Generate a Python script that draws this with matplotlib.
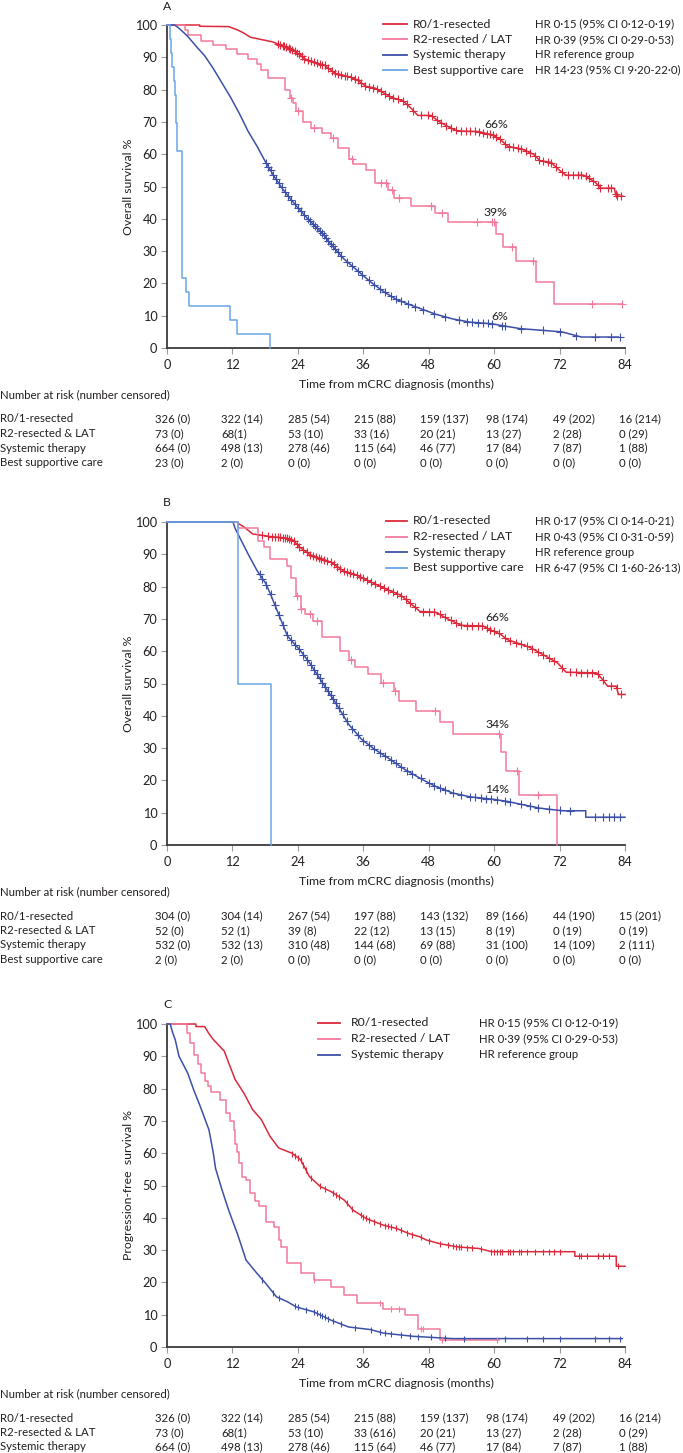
#!/usr/bin/env python3
"""
Kaplan-Meier curves by treatment group (OS, OS landmark, PFS) with risk tables.
"""
import numpy as np
import matplotlib
matplotlib.use('Agg')
import matplotlib.pyplot as plt
from matplotlib.lines import Line2D

plt.rcParams['font.family'] = ['Lato', 'DejaVu Sans']
FS = 8.8     # labels
FSN = 8.2    # number-heavy text (HR, risk table)

W, H = 683, 1453
INK = '#231f20'
C_R01 = '#dc2a3c'
C_R2 = '#f27a9b'
C_SYS = '#3d50a8'
C_BSC = '#6aa6e6'

groups = ['R0/1-resected', 'R2-resected / LAT', 'Systemic therapy', 'Best supportive care']
table_groups = ['R0/1-resected', 'R2-resected & LAT', 'Systemic therapy', 'Best supportive care']
months = [0, 12, 24, 36, 48, 60, 72, 84]

# ---------------- Panel A: overall survival ----------------
hr_a = ['HR 0·15 (95% CI 0·12-0·19)', 'HR 0·39 (95% CI 0·29-0·53)',
        'HR reference group', 'HR 14·23 (95% CI 9·20-22·0)']

a_r01_t = [0, 6.0, 6.0, 11.3, 12.9, 14.1, 15.3, 17.3, 19.3, 20.9, 22.1, 23.7, 25.3, 26.9,
           28.9, 30.9, 33.3, 34.9, 36.5, 38.1, 39.7, 41.3, 43.3, 44.9, 46.0, 48.4, 50.0,
           51.6, 53.2, 57.2, 59.6, 61.2, 62.4, 65.2, 67.2, 68.4, 70.4, 72.0, 73.2, 76.4,
           78.4, 79.6, 82.0, 82.4, 83.6]
a_r01_s = [100, 100, 99.6, 99.5, 98.5, 97.5, 96.2, 95.5, 94.8, 93.8, 93.2, 91.5, 89.5, 88.5,
           87.5, 85.0, 84.0, 83.0, 81.0, 80.5, 79.0, 77.5, 76.5, 74.0, 72.0, 72.0, 70.0,
           68.5, 67.2, 67.0, 66.0, 64.5, 62.5, 61.5, 60.0, 58.0, 57.5, 55.0, 53.5, 53.5,
           51.5, 49.5, 49.5, 47.0, 47.0]
a_r01_cens = [20.3, 20.8, 21.2, 21.5, 21.9, 22.3, 22.6, 23.0, 23.4, 23.8, 24.2, 24.7, 25.2,
              25.8, 26.4, 27.0, 27.5, 28.0, 28.4, 28.9, 29.5, 30.2, 30.8, 31.4, 32.0, 32.6,
              33.1, 33.7, 34.4, 35.0, 35.6, 36.3, 37.0, 37.8, 38.5, 39.2, 40.0, 40.8, 41.5,
              42.4, 43.3, 44.0, 45.2, 46.5, 47.8, 48.6, 49.5, 50.3, 51.2, 52.0, 53.0, 54.0,
              54.8, 55.6, 56.4, 57.2, 58.0, 58.7, 59.3, 59.8, 60.4, 61.0, 62.0, 62.8, 63.5,
              64.3, 65.0, 65.8, 66.6, 67.5, 68.2, 69.0, 69.8, 70.5, 71.3, 72.5, 73.6, 74.5,
              75.3, 76.0, 76.8, 77.4, 78.2, 79.0, 79.5, 80.8, 81.5, 82.3, 82.6, 83.3]

a_r2_t = [0, 3.35, 3.9, 6.3, 8.5, 10.9, 12.9, 14.9, 16.5, 17.3, 18.5, 21.7, 22.5, 23.1,
          23.7, 24.9, 26.5, 28.5, 30.1, 31.3, 33.3, 34.1, 36.5, 38.1, 40.5, 41.7, 44.8,
          49.2, 51.6, 60.4, 61.6, 64.0, 67.6, 70.9, 83.5]
a_r2_s = [100, 98.5, 96.8, 95.0, 93.8, 92.5, 91.0, 89.5, 88.0, 86.0, 83.5, 80.0, 77.5, 76.0,
          73.5, 70.0, 68.2, 66.5, 65.0, 62.0, 58.5, 57.0, 55.0, 51.0, 49.0, 46.5, 43.9,
          41.8, 39.0, 35.3, 31.3, 27.0, 20.5, 13.6, 13.6]
a_r2_cens = [22.7, 24.1, 26.9, 30.5, 34.0, 39.3, 40.1, 41.3, 42.5, 48.4, 50.4, 56.8, 59.6,
             60.0, 63.2, 67.2, 78.0, 83.4]

a_sys_t = [0, 1.4, 2.2, 3.8, 5.3, 6.9, 8.5, 10.1, 11.7, 13.3, 14.9, 16.5, 18.1, 19.7, 21.3,
           23.7, 26.1, 28.5, 30.1, 32.5, 34.9, 37.3, 39.7, 42.1, 44.4, 46.8, 49.2, 52.4,
           55.6, 59.6, 61.2, 64.8, 72.4, 76.0, 82.8]
a_sys_s = [100, 100, 99.0, 96.5, 93.5, 90.5, 86.5, 82.0, 77.5, 72.5, 67.0, 62.5, 57.5, 53.0,
           49.0, 44.0, 39.5, 35.5, 32.0, 27.5, 24.0, 20.5, 17.5, 15.0, 13.5, 12.0, 10.5, 9.0,
           8.0, 7.5, 7.0, 6.0, 5.0, 3.4, 3.4]
a_sys_cens = [18.2, 18.6, 19.0, 19.5, 20.0, 20.5, 21.0, 21.6, 22.2, 22.8, 23.4, 24.0, 24.6,
              25.2, 25.8, 26.3, 26.8, 27.2, 27.6, 28.0, 28.4, 28.8, 29.2, 29.6, 30.0, 30.4,
              30.8, 31.3, 32.0, 33.0, 34.0, 35.0, 35.8, 37.0, 38.0, 39.0, 40.0, 41.0, 42.0,
              43.0, 44.2, 45.5, 47.0, 49.0, 51.0, 53.5, 55.0, 56.0, 57.0, 58.0, 58.8, 59.6,
              61.5, 62.0, 65.0, 69.0, 72.0, 75.0, 78.5, 81.5, 83.0]

a_bsc_t = [0, 0.6, 0.8, 0.9, 1.3, 1.5, 1.6, 1.7, 1.8, 1.9, 2.8, 3.4, 4.1, 11.6, 12.8, 18.9]
a_bsc_s = [100, 95.7, 91.3, 87.0, 82.6, 78.3, 73.9, 69.6, 65.2, 60.9, 21.7, 17.4, 13.0,
           8.7, 4.3, 0]

a_risk = [['326 (0)', '322 (14)', '285 (54)', '215 (88)', '159 (137)', '98 (174)', '49 (202)', '16 (214)'],
          ['73 (0)', '68(1)', '53 (10)', '33 (16)', '20 (21)', '13 (27)', '2 (28)', '0 (29)'],
          ['664 (0)', '498 (13)', '278 (46)', '115 (64)', '46 (77)', '17 (84)', '7 (87)', '1 (88)'],
          ['23 (0)', '2 (0)', '0 (0)', '0 (0)', '0 (0)', '0 (0)', '0 (0)', '0 (0)']]

# ---------------- Panel B: overall survival (landmark) ----------------
hr_b = ['HR 0·17 (95% CI 0·14-0·21)', 'HR 0·43 (95% CI 0·31-0·59)',
        'HR reference group', 'HR 6·47 (95% CI 1·60-26·13)']

b_r01_t = [0, 12.9, 13.1, 14.1, 15.7, 18.9, 22.1, 23.3, 24.5, 26.1, 28.5, 30.1, 32.5, 34.9,
           37.3, 39.7, 42.9, 45.2, 46.4, 49.2, 51.6, 54.0, 58.0, 59.2, 61.2, 62.4, 65.2,
           66.8, 69.2, 71.6, 73.2, 78.8, 79.6, 80.8, 82.4, 82.8, 84.0]
b_r01_s = [100, 100, 99.5, 98.5, 96.3, 95.5, 95.0, 94.0, 92.0, 90.0, 88.5, 87.5, 84.7, 83.5,
           81.5, 79.6, 77.3, 74.0, 72.3, 72.1, 69.9, 68.0, 67.8, 66.7, 65.2, 63.6, 62.0,
           61.0, 58.7, 56.4, 53.5, 53.3, 51.8, 49.2, 49.2, 46.6, 46.6]
b_r01_cens = [17.5, 18.5, 19.2, 19.8, 20.3, 20.8, 21.2, 21.6, 22.0, 22.4, 22.8, 23.3, 23.8,
              24.3, 25.0, 25.6, 26.2, 26.8, 27.3, 27.8, 28.3, 28.8, 29.4, 30.0, 30.6, 31.2,
              31.8, 32.4, 33.0, 33.6, 34.2, 34.8, 35.4, 36.0, 36.7, 37.4, 38.2, 39.0, 39.8,
              40.6, 41.4, 42.2, 43.0, 43.8, 44.6, 45.5, 47.0, 48.0, 49.0, 50.0, 51.0, 52.0,
              53.0, 54.0, 55.0, 56.0, 57.0, 57.8, 58.6, 59.3, 60.0, 60.8, 62.0, 63.0, 64.0,
              65.0, 66.0, 67.0, 68.0, 69.0, 70.0, 71.0, 72.5, 74.0, 75.0, 76.0, 77.0, 78.0,
              79.0, 80.0, 81.5, 82.5, 83.3]

b_r2_t = [0, 13.1, 16.7, 17.7, 18.9, 22.1, 22.7, 23.7, 24.5, 25.3, 26.7, 28.5, 31.7, 33.3,
          34.5, 36.9, 39.3, 41.7, 42.5, 45.6, 50.0, 52.4, 61.2, 62.2, 64.6, 71.6]
b_r2_s = [100, 98.1, 94.2, 92.3, 88.5, 86.5, 82.7, 77.0, 73.0, 71.4, 69.3, 64.4, 60.0, 57.4,
          55.2, 52.8, 50.2, 47.6, 44.5, 41.4, 38.1, 34.4, 28.7, 23.0, 15.5, 0]
b_r2_cens = [23.8, 24.6, 26.3, 27.5, 33.7, 39.7, 41.9, 49.2, 60.8, 64.2, 68.0]

b_sys_t = [0, 12.1, 12.5, 13.7, 14.9, 16.5, 18.1, 18.9, 20.1, 22.1, 24.5, 26.1, 28.5, 30.9,
           33.3, 35.7, 38.1, 40.5, 43.6, 46.8, 49.2, 52.4, 55.6, 59.6, 62.4, 65.2, 68.4,
           72.5, 76.8, 76.8, 84.0]
b_sys_s = [100, 100, 98.0, 94.0, 90.0, 85.0, 81.0, 78.0, 73.0, 64.7, 60.1, 56.5, 50.3, 44.1,
           37.4, 32.7, 29.6, 27.0, 23.4, 20.3, 18.2, 16.1, 14.9, 14.2, 13.5, 12.5, 11.4,
           10.6, 10.6, 8.6, 8.6]
b_sys_cens = [17.0, 17.5, 18.2, 19.0, 19.8, 20.5, 21.3, 22.0, 22.8, 23.5, 24.2, 25.0, 25.7,
              26.4, 27.0, 27.5, 28.0, 28.5, 29.0, 29.5, 30.0, 30.5, 31.0, 31.5, 32.2, 33.0,
              34.0, 35.0, 36.0, 37.0, 38.0, 39.0, 40.0, 41.0, 42.0, 43.0, 44.0, 45.0, 46.5,
              48.0, 49.0, 50.0, 51.0, 52.5, 54.0, 55.5, 56.5, 57.5, 58.5, 59.5, 60.5, 62.0,
              63.0, 65.0, 66.5, 68.0, 70.0, 72.0, 74.0, 78.5, 80.0, 81.0, 82.0, 83.0]

b_bsc_t = [0, 13.1, 19.1]
b_bsc_s = [100, 50, 0]

b_risk = [['304 (0)', '304 (14)', '267 (54)', '197 (88)', '143 (132)', '89 (166)', '44 (190)', '15 (201)'],
          ['52 (0)', '52 (1)', '39 (8)', '22 (12)', '13 (15)', '8 (19)', '0 (19)', '0 (19)'],
          ['532 (0)', '532 (13)', '310 (48)', '144 (68)', '69 (88)', '31 (100)', '14 (109)', '2 (111)'],
          ['2 (0)', '2 (0)', '0 (0)', '0 (0)', '0 (0)', '0 (0)', '0 (0)', '0 (0)']]

# ---------------- Panel C: progression-free survival ----------------
hr_c = ['HR 0·15 (95% CI 0·12-0·19)', 'HR 0·39 (95% CI 0·29-0·53)', 'HR reference group']

c_r01_t = [0, 5.3, 5.3, 6.9, 7.7, 8.5, 10.5, 11.3, 12.5, 14.1, 15.7, 17.3, 18.9, 20.5, 22.9,
           24.5, 26.1, 28.1, 30.1, 32.5, 34.1, 36.5, 39.7, 42.1, 44.4, 46.4, 47.6, 50.0,
           53.2, 57.2, 59.6, 74.8, 74.8, 82.4, 82.4, 84.0]
c_r01_s = [100, 100, 99.2, 99.2, 97.0, 95.2, 91.6, 88.0, 82.8, 78.6, 73.5, 70.4, 65.2, 61.6,
           60.0, 58.0, 52.8, 49.7, 48.1, 45.5, 42.4, 39.8, 37.7, 36.7, 35.1, 34.1, 33.1,
           32.0, 31.0, 30.5, 29.5, 29.5, 28.1, 28.1, 25.0, 25.0]
c_r01_cens = [23.0, 23.5, 24.0, 24.5, 25.0, 25.5, 26.5, 28.0, 29.0, 30.5, 31.0, 31.5, 33.0,
              34.0, 35.5, 36.0, 36.5, 37.0, 38.0, 39.0, 40.0, 40.5, 41.0, 42.0, 43.0, 44.0,
              45.0, 46.5, 48.0, 50.0, 51.5, 52.5, 53.0, 53.5, 54.0, 55.0, 56.0, 57.5, 59.5,
              60.0, 60.5, 61.0, 61.5, 62.5, 63.0, 63.5, 64.5, 65.0, 66.0, 67.5, 69.0, 70.0,
              71.0, 72.0, 75.5, 76.0, 77.0, 79.0, 80.0, 81.0, 82.7]

c_r2_t = [0, 3.6, 4.2, 5.0, 5.6, 6.3, 6.9, 7.5, 8.1, 9.7, 10.9, 11.6, 12.2, 12.5, 12.8, 13.2,
          13.7, 14.5, 15.3, 16.1, 16.9, 18.1, 19.7, 20.5, 20.9, 22.1, 24.5, 26.9, 30.1,
          32.5, 34.9, 39.7, 43.6, 46.0, 50.0, 60.8]
c_r2_s = [100, 97.3, 94.1, 90.4, 87.7, 84.9, 82.2, 80.8, 78.9, 76.4, 72.3, 69.9, 67.1, 63.0,
          60.3, 56.9, 52.7, 51.7, 47.6, 45.2, 43.5, 38.8, 37.3, 33.1, 31.0, 25.9, 22.8,
          20.7, 18.7, 16.1, 13.5, 11.9, 9.8, 5.7, 2.1, 2.1]
c_r2_cens = [27.0, 39.0, 41.0, 42.5, 46.5, 47.0, 50.5, 60.5]

c_sys_t = [0, 0.6, 1.0, 1.5, 2.2, 3.8, 4.9, 6.1, 7.7, 8.5, 8.9, 10.1, 11.3, 12.9, 13.3, 14.5,
           16.5, 18.1, 20.1, 22.1, 23.7, 26.9, 30.1, 33.3, 37.3, 39.7, 45.2, 52.4, 83.5]
c_sys_s = [100, 100, 97.5, 95.2, 90.0, 84.8, 79.6, 74.5, 67.2, 60.0, 55.3, 48.6, 42.4, 35.1,
           33.1, 26.9, 22.8, 19.7, 15.5, 14.0, 12.4, 10.9, 8.3, 6.2, 5.4, 4.3, 3.3, 2.6, 2.6]
c_sys_cens = [17.5, 19.5, 20.5, 23.5, 24.0, 25.5, 27.0, 27.5, 28.0, 28.5, 29.0, 29.5, 30.5,
              32.0, 34.5, 37.5, 39.0, 40.0, 41.0, 43.0, 44.5, 46.0, 48.5, 51.0, 54.5, 62.0,
              66.0, 69.0, 72.0, 78.5, 81.0, 83.0]

c_risk = [['326 (0)', '322 (14)', '285 (54)', '215 (88)', '159 (137)', '98 (174)', '49 (202)', '16 (214)'],
          ['73 (0)', '68(1)', '53 (10)', '33 (616)', '20 (21)', '13 (27)', '2 (28)', '0 (29)'],
          ['664 (0)', '498 (13)', '278 (46)', '115 (64)', '46 (77)', '17 (84)', '7 (87)', '1 (88)']]


def fx(x):
    return x / W


def fy(y):
    return 1 - y / H


def step_value(t, s, tc):
    """Survival of a step curve at the censor times."""
    i = np.searchsorted(t, tc, side='right') - 1
    return np.asarray(s)[i]


def draw_curve(ax, t, s, cens, color, step, marker):
    t = np.asarray(t, float)
    s = np.asarray(s, float)
    if step:
        ax.step(t, s, where='post', color=color, lw=1.1, clip_on=False, zorder=3)
        yc = step_value(t, s, cens)
    else:
        ax.plot(t, s, color=color, lw=1.1, clip_on=False, zorder=3)
        yc = np.interp(cens, t, s)
    if len(cens):
        ax.plot(cens, yc, ls='none', marker=marker, ms=5.5 if marker == '+' else 5,
                mew=0.8, color=color, clip_on=False, zorder=4)


def make_panel(top, letter, ylabel, curves, colors, hr, leg, pct, risk, labels):
    bottom = top + 323
    ax = fig.add_axes([fx(167), fy(bottom), fx(625) - fx(167), (bottom - top) / H])
    for (t, s, cens, step, marker), col in zip(curves, colors):
        draw_curve(ax, t, s, cens, col, step, marker)
    ax.set_xlim(0, 84)
    ax.set_ylim(0, 100)
    ax.set_xticks(months)
    ax.set_yticks(range(0, 101, 10))
    for side in ('top', 'right'):
        ax.spines[side].set_visible(False)
    for side in ('left', 'bottom'):
        ax.spines[side].set_color('#3a3a3a')
        ax.spines[side].set_linewidth(1.3)
    ax.tick_params(direction='out', length=4, width=0.8, color='#9a9a9a',
                   labelcolor=INK, labelsize=FS + 0.4, pad=3)
    ax.tick_params(axis='x', pad=4)
    for x, y, txt in pct:
        ax.text(x, y, txt, ha='center', va='center', color=INK, fontsize=FS)

    fig.text(fx(167), fy(top - 19), letter, ha='center', va='center', color=INK, fontsize=FS)
    fig.text(fx(128), fy((top + bottom) / 2), ylabel, rotation=90, ha='center',
             va='center', color=INK, fontsize=FS)
    fig.text(fx(396), fy(bottom + 36), 'Time from mCRC diagnosis (months)',
             ha='center', va='center', color=INK, fontsize=FS)

    # legend
    lx0, lx1, tx, hx, ly0, dy = leg
    for i, (name, col) in enumerate(zip(groups[:len(hr)], colors)):
        y = fy(ly0 + i * dy)
        fig.add_artist(Line2D([fx(lx0), fx(lx1)], [y, y], color=col, lw=1.3))
        fig.text(fx(tx), y, name, ha='left', va='center', color=INK, fontsize=FS)
        fig.text(fx(hx), y, hr[i], ha='left', va='center', color=INK, fontsize=FSN)

    # number at risk table
    fig.text(fx(0), fy(bottom + 47), 'Number at risk (number censored)',
             ha='left', va='center', color=INK, fontsize=FSN)
    for r, row in enumerate(risk):
        y = fy(bottom + 71 + r * 14.5)
        fig.text(fx(0), y, labels[r], ha='left', va='center', color=INK, fontsize=FSN)
        for c, cell in enumerate(row):
            fig.text(fx(155 + c * 66.3), y, cell, ha='left', va='center', color=INK,
                     fontsize=FSN)
    return ax


fig = plt.figure(figsize=(W / 100, H / 100), dpi=100)

colors4 = [C_R01, C_R2, C_SYS, C_BSC]

make_panel(25, 'A', 'Overall survival %',
           [(a_r01_t, a_r01_s, a_r01_cens, False, '+'),
            (a_r2_t, a_r2_s, a_r2_cens, True, '+'),
            (a_sys_t, a_sys_s, a_sys_cens, False, '+'),
            (a_bsc_t, a_bsc_s, [], True, '+')],
           colors4, hr_a, (383, 407, 413, 535, 24, 15.4),
           [(60.3, 69.3, '66%'), (60.3, 41.8, '39%'), (61.0, 9.8, '6%')],
           a_risk, table_groups)

make_panel(522, 'B', 'Overall survival %',
           [(b_r01_t, b_r01_s, b_r01_cens, False, '+'),
            (b_r2_t, b_r2_s, b_r2_cens, True, '+'),
            (b_sys_t, b_sys_s, b_sys_cens, False, '+'),
            (b_bsc_t, b_bsc_s, [], True, '+')],
           colors4, hr_b, (386, 407, 413, 535, 521, 15.6),
           [(60.6, 70.3, '66%'), (60.6, 37.3, '34%'), (60.6, 17.3, '14%')],
           b_risk, table_groups)

make_panel(1024, 'C', 'Progression-free  survival %',
           [(c_r01_t, c_r01_s, c_r01_cens, False, '|'),
            (c_r2_t, c_r2_s, c_r2_cens, True, '|'),
            (c_sys_t, c_sys_s, c_sys_cens, False, '|')],
           colors4[:3], hr_c, (318, 340, 351, 479, 1023, 16),
           [], c_risk, table_groups[:3])

fig.savefig('out.png', dpi=100)
